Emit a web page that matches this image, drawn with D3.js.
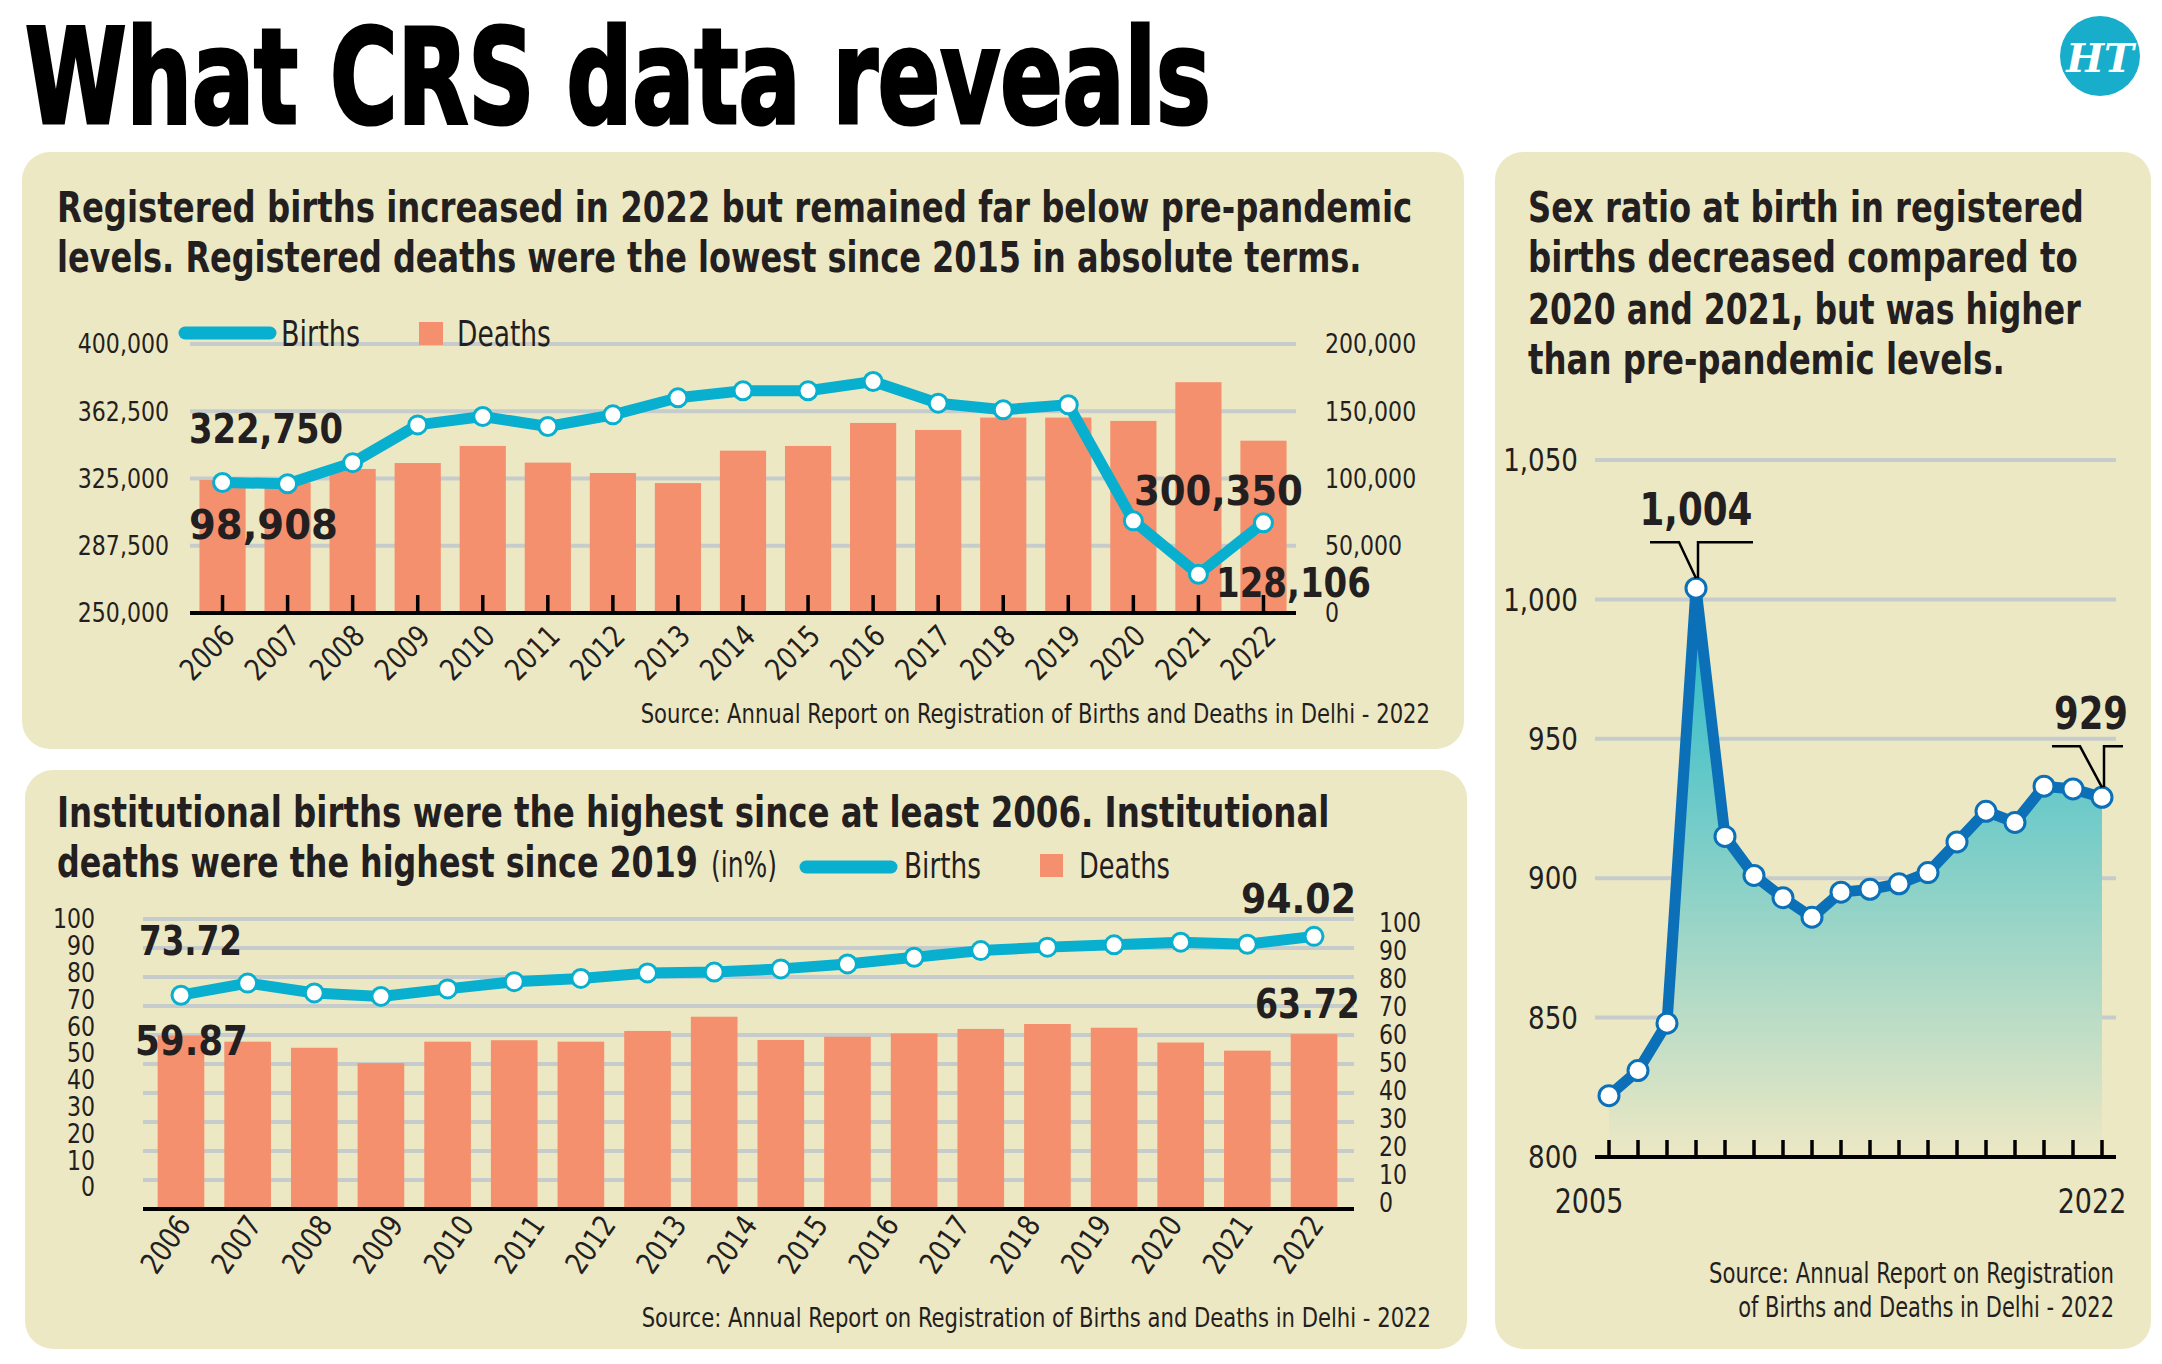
<!DOCTYPE html>
<html>
<head>
<meta charset="utf-8">
<script src="https://cdn.jsdelivr.net/npm/d3@7"></script>
<style>
  html, body { margin: 0; padding: 0; background: #fff; }
  svg { display: block; }
</style>
</head>
<body>
<svg id="chart" width="2162" height="1364"></svg>
<script>
// values

// panel 1 : registered births / deaths
const regYears = ["2006","2007","2008","2009","2010","2011","2012","2013","2014",
                  "2015","2016","2017","2018","2019","2020","2021","2022"];
const regBirths = [322750, 322100, 333850, 354900, 359560, 353980, 360500, 370000, 373900,
                   373900, 379100, 367000, 363300, 366100, 301400, 271600, 300350];
const regDeaths = [98908, 97000, 107100, 111500, 124200, 111800, 104100, 96600, 120700,
                   124200, 141300, 136100, 145300, 145300, 142800, 171600, 128106];
const regBirthTicks = [250000, 287500, 325000, 362500, 400000];
const regDeathTicks = [0, 50000, 100000, 150000, 200000];

// panel 2 : institutional births / deaths (%). The source draws 18 bars under 17 year labels
const instSlots = ["2005","2006","2007","2008","2009","2010","2011","2012","2013",
                   "2014","2015","2016","2017","2018","2019","2020","2021","2022"];
const instLabels = ["2006","2007","2008","2009","2010","2011","2012","2013","2014",
                    "2015","2016","2017","2018","2019","2020","2021","2022"];
const instBirths = [73.72, 77.9, 74.5, 73.3, 75.9, 78.4, 79.5, 81.4, 81.7,
                    82.8, 84.5, 86.8, 89.1, 90.3, 91.1, 92.0, 91.3, 94.02];
const instDeaths = [59.87, 57.7, 55.6, 50.3, 57.7, 58.2, 57.7, 61.4, 66.3,
                    58.3, 59.4, 60.5, 62.1, 63.8, 62.5, 57.4, 54.6, 60.3];
const instTicks = [0, 10, 20, 30, 40, 50, 60, 70, 80, 90, 100];

// panel 3 : sex ratio at birth
const ratioYears = ["2005","2006","2007","2008","2009","2010","2011","2012","2013",
                    "2014","2015","2016","2017","2018","2019","2020","2021","2022"];
const sexRatio = [822, 831, 848, 1004, 915, 901, 893, 886, 895,
                  896, 898, 902, 913, 924, 920, 933, 932, 929];
const ratioTicks = [800, 850, 900, 950, 1000, 1050];
const ratioEnds = ["2005", "2022"];

// look
const INK = "#231f20", PANEL = "#ede8c4", GRID = "#c5cccb";
const CYAN = "#08afcf", SALMON = "#f4906e", BLUE = "#0b70b8";
const NARROW = "'Liberation Sans Narrow','DejaVu Sans Condensed','DejaVu Sans',sans-serif";
const BOLD = "'DejaVu Sans Condensed','DejaVu Sans',sans-serif";
const SOURCE = "Source: Annual Report on Registration of Births and Deaths in Delhi - 2022";

const svg = d3.select("#chart");
svg.append("rect").attr("width", 2162).attr("height", 1364).attr("fill", "#fff");

// how wide the light font runs, so labels can be brought to the narrow look
const calib = svg.append("text").attr("font-family", NARROW).attr("font-size", 100).text("0000000000");
const kNarrow = 520 / calib.node().getComputedTextLength();
calib.remove();

// text at a wanted width: shrink the font to that width, then stretch it back up
// vertically, so the glyphs keep their height and the box stays true
function label(g, s, x, y, o) {
    o = o || {};
    const size = o.size || 27;
    const t = g.append("text")
        .attr("x", x).attr("y", y)
        .attr("font-family", o.bold ? BOLD : NARROW)
        .attr("font-weight", o.bold ? "bold" : "normal")
        .attr("font-size", size)
        .attr("fill", o.fill || INK)
        .attr("text-anchor", o.anchor || "start")
        .text(s);
    if (o.dy) t.attr("dy", o.dy);
    const natural = t.node().getComputedTextLength();
    const f = (o.w || natural * kNarrow) / natural;
    t.attr("font-size", size * f)
        .attr("transform", "translate(" + x + "," + y + ") rotate(" + (o.rotate || 0) + ") scale(1,"
              + (1 / f) + ") translate(" + (-x) + "," + (-y) + ")");
    return t;
}

function panel(x, y, w, h) {
    const g = svg.append("g");
    g.append("rect").attr("x", x).attr("y", y).attr("width", w).attr("height", h)
        .attr("rx", 28).attr("fill", PANEL);
    return g;
}

function hline(g, x1, x2, y, color, width) {
    return g.append("line").attr("x1", x1).attr("x2", x2).attr("y1", y).attr("y2", y)
        .attr("stroke", color).attr("stroke-width", width);
}

const fmt = d3.format(",");

// ---------- header ----------
label(svg, "What CRS data reveals", 25, 123, {bold: true, size: 132, w: 1186, fill: "#000"})
    .attr("stroke", "#000").attr("stroke-width", 2.5);

svg.append("circle").attr("cx", 2100).attr("cy", 56).attr("r", 40).attr("fill", "#18adca");
svg.append("text").attr("x", 2100).attr("y", 72).attr("text-anchor", "middle")
    .attr("font-family", "'DejaVu Serif',serif").attr("font-style", "italic")
    .attr("font-weight", "bold").attr("font-size", 40).attr("fill", "#fff")
    .text("HT");

// ---------- panel 1 ----------
const p1 = panel(22, 152, 1442, 597);
label(p1, "Registered births increased in 2022 but remained far below pre-pandemic", 57, 222,
      {bold: true, size: 42, w: 1356});
label(p1, "levels. Registered deaths were the lowest since 2015 in absolute terms.", 57, 272,
      {bold: true, size: 42, w: 1305});

const x1 = d3.scaleBand().domain(regYears).range([190, 1296]).paddingInner(0.29).paddingOuter(0.145);
const yB1 = d3.scaleLinear().domain([250000, 400000]).range([613, 344]);
const yD1 = d3.scaleLinear().domain([0, 200000]).range([613, 344]);
const c1 = d => x1(d) + x1.bandwidth() / 2;

regBirthTicks.slice(1).forEach(t => hline(p1, 190, 1296, yB1(t), GRID, 4));

p1.selectAll("rect.bar").data(regYears).join("rect").attr("class", "bar")
    .attr("x", d => x1(d)).attr("width", x1.bandwidth())
    .attr("y", (d, i) => yD1(regDeaths[i]))
    .attr("height", (d, i) => yD1(0) - yD1(regDeaths[i]))
    .attr("fill", SALMON);

hline(p1, 190, 1296, 613, "#000", 4);
p1.selectAll("line.tick").data(regYears).join("line").attr("class", "tick")
    .attr("x1", c1).attr("x2", c1).attr("y1", 595).attr("y2", 613)
    .attr("stroke", "#000").attr("stroke-width", 3.5);

regYears.forEach(d => label(p1, d, c1(d) + 14, 638, {anchor: "end", size: 30, rotate: -45}));
regBirthTicks.forEach(t => label(p1, fmt(t), 169, yB1(t), {anchor: "end", dy: "0.35em"}));
regDeathTicks.forEach(t => label(p1, fmt(t), 1325, yD1(t), {dy: "0.35em"}));

const line1 = d3.line().x(d => c1(d[0])).y(d => yB1(d[1]));
const pts1 = regYears.map((d, i) => [d, regBirths[i]]);
p1.append("path").attr("d", line1(pts1)).attr("fill", "none")
    .attr("stroke", CYAN).attr("stroke-width", 11).attr("stroke-linejoin", "round");
p1.selectAll("circle.pt").data(pts1).join("circle").attr("class", "pt")
    .attr("cx", d => c1(d[0])).attr("cy", d => yB1(d[1])).attr("r", 9)
    .attr("fill", "#fff").attr("stroke", CYAN).attr("stroke-width", 3);

label(p1, fmt(regBirths[0]), 189, 443, {bold: true, size: 40, w: 154});
label(p1, fmt(regDeaths[0]), 189, 539, {bold: true, size: 40, w: 149});
label(p1, fmt(regBirths[16]), 1134, 505, {bold: true, size: 40, w: 169});
label(p1, fmt(regDeaths[16]), 1216, 597, {bold: true, size: 40, w: 155});

p1.append("line").attr("x1", 185).attr("x2", 270).attr("y1", 333).attr("y2", 333)
    .attr("stroke", CYAN).attr("stroke-width", 13).attr("stroke-linecap", "round");
label(p1, "Births", 281, 346, {size: 36, w: 79});
p1.append("rect").attr("x", 419).attr("y", 322).attr("width", 24).attr("height", 23).attr("fill", SALMON);
label(p1, "Deaths", 457, 346, {size: 36, w: 94});

label(p1, SOURCE, 1430, 723, {anchor: "end", size: 27, w: 790});

// ---------- panel 2 ----------
const p2 = panel(25, 770, 1442, 579);
label(p2, "Institutional births were the highest since at least 2006. Institutional", 57, 827,
      {bold: true, size: 42, w: 1273});
label(p2, "deaths were the highest since 2019", 57, 877, {bold: true, size: 42, w: 641});
label(p2, "(in%)", 711, 877, {size: 36, w: 66});

p2.append("line").attr("x1", 806).attr("x2", 891).attr("y1", 867).attr("y2", 867)
    .attr("stroke", CYAN).attr("stroke-width", 13).attr("stroke-linecap", "round");
label(p2, "Births", 904, 878, {size: 36, w: 77});
p2.append("rect").attr("x", 1040).attr("y", 854).attr("width", 23).attr("height", 23).attr("fill", SALMON);
label(p2, "Deaths", 1079, 878, {size: 36, w: 91});

const x2 = d3.scaleBand().domain(instSlots).range([143, 1352]).paddingInner(0.3).paddingOuter(0.22);
const y2 = d3.scaleLinear().domain([0, 100]).range([1209, 919]);
const c2 = d => x2(d) + x2.bandwidth() / 2;
const yLeft2 = d3.scaleLinear().domain([0, 100]).range([1187, 919]);
const yRight2 = d3.scaleLinear().domain([0, 100]).range([1203, 923]);
const xLab2 = d3.scalePoint().domain(instLabels).range([192, 1325]);

instTicks.slice(1).forEach(t => hline(p2, 143, 1354, y2(t), GRID, 4));

p2.selectAll("rect.bar").data(instSlots).join("rect").attr("class", "bar")
    .attr("x", d => x2(d)).attr("width", x2.bandwidth())
    .attr("y", (d, i) => y2(instDeaths[i]))
    .attr("height", (d, i) => y2(0) - y2(instDeaths[i]))
    .attr("fill", SALMON);

hline(p2, 143, 1354, 1209, "#000", 4);

instLabels.forEach(d => label(p2, d, xLab2(d), 1225, {anchor: "end", size: 30, rotate: -55}));
instTicks.forEach(t => label(p2, t, 95, yLeft2(t), {anchor: "end", dy: "0.35em"}));
instTicks.forEach(t => label(p2, t, 1379, yRight2(t), {dy: "0.35em"}));

const line2 = d3.line().x(d => c2(d[0])).y(d => y2(d[1]));
const pts2 = instSlots.map((d, i) => [d, instBirths[i]]);
p2.append("path").attr("d", line2(pts2)).attr("fill", "none")
    .attr("stroke", CYAN).attr("stroke-width", 11).attr("stroke-linejoin", "round");
p2.selectAll("circle.pt").data(pts2).join("circle").attr("class", "pt")
    .attr("cx", d => c2(d[0])).attr("cy", d => y2(d[1])).attr("r", 9)
    .attr("fill", "#fff").attr("stroke", CYAN).attr("stroke-width", 3);

label(p2, instBirths[0].toFixed(2), 139, 955, {bold: true, size: 40, w: 103});
label(p2, instDeaths[0].toFixed(2), 135, 1055, {bold: true, size: 40, w: 113});
label(p2, instBirths[17].toFixed(2), 1241, 913, {bold: true, size: 40, w: 115});
label(p2, "63.72", 1255, 1018, {bold: true, size: 40, w: 105});

label(p2, SOURCE, 1431, 1327, {anchor: "end", size: 27, w: 790});

// ---------- panel 3 ----------
const p3 = panel(1495, 152, 656, 1197);
["Sex ratio at birth in registered", "births decreased compared to",
 "2020 and 2021, but was higher", "than pre-pandemic levels."].forEach((s, i) =>
    label(p3, s, 1528, [222, 272, 324, 374][i], {bold: true, size: 42, w: [556, 550, 553, 477][i]}));

const x3 = d3.scalePoint().domain(ratioYears).range([1609, 2102]);
const y3 = d3.scaleLinear().domain([800, 1050]).range([1157, 460]);

ratioTicks.slice(1).forEach(t => hline(p3, 1595, 2116, y3(t), GRID, 4));

const grad = svg.append("defs").append("linearGradient").attr("id", "ratioFill")
    .attr("gradientUnits", "userSpaceOnUse")
    .attr("x1", 0).attr("x2", 0).attr("y1", y3(1004)).attr("y2", y3(800));
grad.append("stop").attr("offset", 0).attr("stop-color", "#1fb8cb");
grad.append("stop").attr("offset", 1).attr("stop-color", PANEL);

const pts3 = ratioYears.map((d, i) => [d, sexRatio[i]]);
p3.append("path")
    .attr("d", d3.area().x(d => x3(d[0])).y0(y3(800)).y1(d => y3(d[1]))(pts3))
    .attr("fill", "url(#ratioFill)");

hline(p3, 1595, 2116, y3(800), "#000", 4);
p3.selectAll("line.tick").data(ratioYears).join("line").attr("class", "tick")
    .attr("x1", d => x3(d)).attr("x2", d => x3(d))
    .attr("y1", y3(800) - 17).attr("y2", y3(800))
    .attr("stroke", "#000").attr("stroke-width", 3.5);

p3.append("path").attr("d", d3.line().x(d => x3(d[0])).y(d => y3(d[1]))(pts3))
    .attr("fill", "none").attr("stroke", BLUE).attr("stroke-width", 11)
    .attr("stroke-linejoin", "round");
p3.selectAll("circle.pt").data(pts3).join("circle").attr("class", "pt")
    .attr("cx", d => x3(d[0])).attr("cy", d => y3(d[1])).attr("r", 10)
    .attr("fill", "#fff").attr("stroke", BLUE).attr("stroke-width", 3);

ratioTicks.forEach(t => label(p3, fmt(t), 1578, y3(t), {anchor: "end", size: 32, dy: "0.35em"}));
label(p3, ratioEnds[0], x3(ratioEnds[0]) - 20, 1213, {anchor: "middle", size: 33});
label(p3, ratioEnds[1], x3(ratioEnds[1]) - 10, 1213, {anchor: "middle", size: 33});

// callouts
function callout(g, year, value, left, bend, right, rise, text, w, dx) {
    const px = x3(year), py = y3(value), ly = py - rise;
    g.append("path")
        .attr("d", "M" + (px + left) + "," + ly + "H" + (px + bend) + "L" + px + "," + (py - 10)
              + "M" + (px + 2) + "," + (py - 10) + "V" + ly + "H" + (px + right))
        .attr("fill", "none").attr("stroke", "#000").attr("stroke-width", 2.5);
    label(g, text, px + dx, ly - 17, {bold: true, size: 44, anchor: "middle", w: w});
}
callout(p3, "2008", sexRatio[3], -46, -17, 57, 46, fmt(sexRatio[3]), 113, 0);
callout(p3, "2022", sexRatio[17], -50, -22, 21, 51, fmt(sexRatio[17]), 74, -11);

label(p3, "Source: Annual Report on Registration", 2114, 1283, {anchor: "end", size: 28, w: 405});
label(p3, "of Births and Deaths in Delhi - 2022", 2114, 1317, {anchor: "end", size: 28, w: 376});
</script>
</body>
</html>
